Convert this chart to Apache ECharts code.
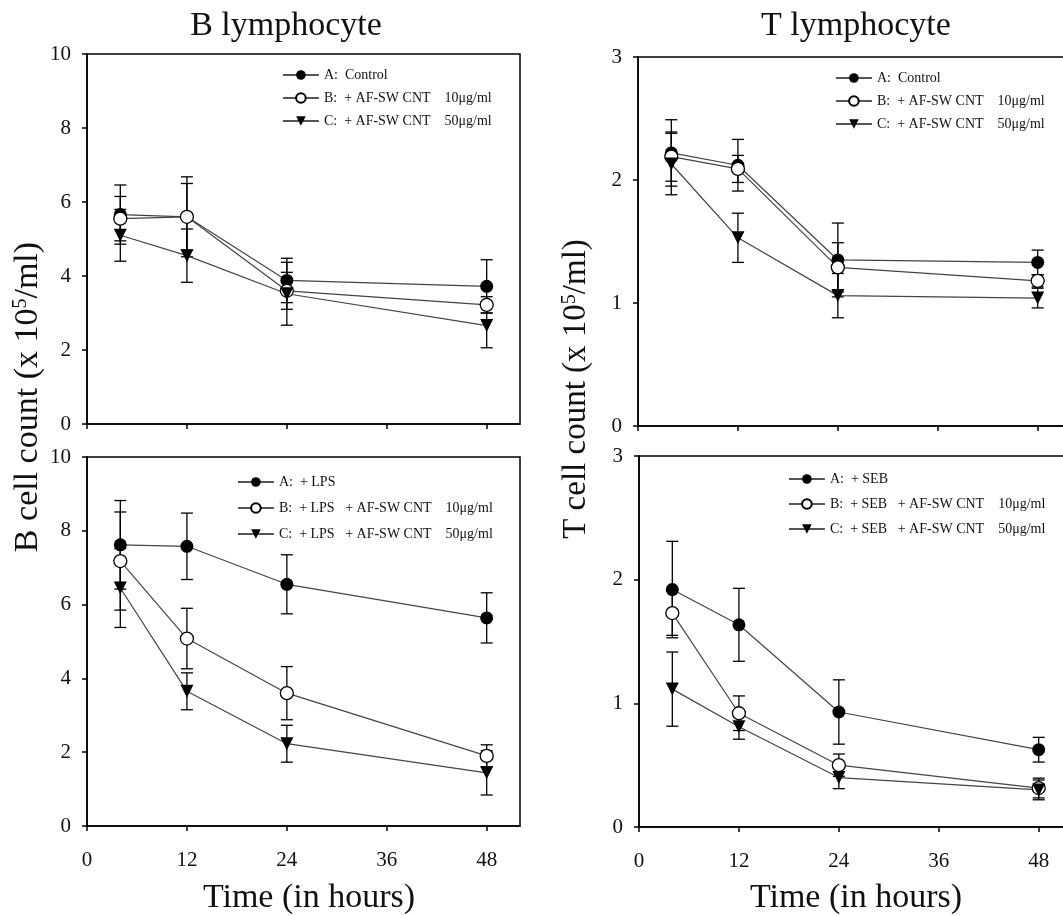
<!DOCTYPE html>
<html>
<head>
<meta charset="utf-8">
<script src="https://cdn.jsdelivr.net/npm/echarts@6/dist/echarts.min.js"></script>
<style>html,body{margin:0;padding:0;background:#fff;}#c{width:1063px;height:916px;}</style>
</head>
<body>
<div id="c"></div>
<script>
// ---- data ----
const hours = [4, 12, 24, 48];
const xTicks = [0, 12, 24, 36, 48];
const bYTicks = [0, 2, 4, 6, 8, 10];
const tYTicks = [0, 1, 2, 3];

const namesCtrl = ['A:  Control', 'B:  + AF-SW CNT    10μg/ml', 'C:  + AF-SW CNT    50μg/ml'];
const namesLps  = ['A:  + LPS', 'B:  + LPS   + AF-SW CNT    10μg/ml', 'C:  + LPS   + AF-SW CNT    50μg/ml'];
const namesSeb  = ['A:  + SEB', 'B:  + SEB   + AF-SW CNT    10μg/ml', 'C:  + SEB   + AF-SW CNT    50μg/ml'];

// B lymphocyte, control
const bCtrlA = [5.66, 5.60, 3.88, 3.72];
const bCtrlB = [5.55, 5.60, 3.60, 3.22];
const bCtrlC = [5.10, 4.55, 3.52, 2.66];
const bCtrlAErr = [0.80, 1.08, 0.60, 0.72];
const bCtrlBErr = [0.60, 0.90, 0.50, 0.22];
const bCtrlCErr = [0.70, 0.72, 0.85, 0.60];

// B lymphocyte, LPS
const bLpsA = [7.62, 7.58, 6.55, 5.64];
const bLpsB = [7.18, 5.08, 3.60, 1.90];
const bLpsC = [6.45, 3.65, 2.23, 1.44];
const bLpsAErr = [1.20, 0.90, 0.80, 0.68];
const bLpsBErr = [1.33, 0.82, 0.72, 0.30];
const bLpsCErr = [1.07, 0.50, 0.50, 0.60];

// T lymphocyte, control
const tCtrlA = [2.22, 2.12, 1.35, 1.33];
const tCtrlB = [2.19, 2.09, 1.29, 1.18];
const tCtrlC = [2.13, 1.53, 1.06, 1.04];
const tCtrlAErr = [0.27, 0.21, 0.30, 0.10];
const tCtrlBErr = [0.20, 0.11, 0.20, 0.05];
const tCtrlCErr = [0.25, 0.20, 0.18, 0.08];

// T lymphocyte, SEB
const tSebA = [1.92, 1.635, 0.93, 0.625];
const tSebB = [1.73, 0.92, 0.50, 0.315];
const tSebC = [1.115, 0.81, 0.40, 0.30];
const tSebAErr = [0.39, 0.295, 0.26, 0.10];
const tSebBErr = [0.18, 0.14, 0.09, 0.08];
const tSebCErr = [0.30, 0.10, 0.09, 0.08];

// ---- build ----
const FONT = '"Liberation Serif", "Times New Roman", serif';
const markStyles = [
  { symbol: 'circle', rotate: 0, fill: '#000' },
  { symbol: 'circle', rotate: 0, fill: '#fff' },
  { symbol: 'triangle', rotate: 180, fill: '#000' }
];

function errRender(params, api) {
  const x = api.value(0), m = api.value(1), e = api.value(2);
  const top = api.coord([x, m + e]);
  const bot = api.coord([x, m - e]);
  const w = 6;
  const st = { stroke: '#000', lineWidth: 1.3 };
  return {
    type: 'group',
    children: [
      { type: 'line', shape: { x1: top[0], y1: top[1], x2: bot[0], y2: bot[1] }, style: st },
      { type: 'line', shape: { x1: top[0] - w, y1: top[1], x2: top[0] + w, y2: top[1] }, style: st },
      { type: 'line', shape: { x1: bot[0] - w, y1: bot[1], x2: bot[0] + w, y2: bot[1] }, style: st }
    ]
  };
}

const series = [];
function addPanel(gi, names, vals, errs) {
  vals.forEach((v, k) => {
    series.push({
      type: 'custom', name: 'err' + gi + '_' + k, xAxisIndex: gi, yAxisIndex: gi,
      renderItem: errRender, z: 2, silent: true,
      encode: { x: 0, y: 1 },
      data: hours.map((h, i) => [h, v[i], errs[k][i]])
    });
  });
  vals.forEach((v, k) => {
    const ms = markStyles[k];
    series.push({
      type: 'line', name: names[k], xAxisIndex: gi, yAxisIndex: gi, z: 3,
      symbol: ms.symbol, symbolRotate: ms.rotate, symbolSize: 13, showAllSymbol: true,
      lineStyle: { color: '#444', width: 1.2 },
      itemStyle: { color: ms.fill, borderColor: '#000', borderWidth: ms.fill === '#fff' ? 1.3 : 0 },
      emphasis: { disabled: true },
      data: hours.map((h, i) => [h, v[i]])
    });
  });
}
addPanel(0, namesCtrl, [bCtrlA, bCtrlB, bCtrlC], [bCtrlAErr, bCtrlBErr, bCtrlCErr]);
addPanel(1, namesLps, [bLpsA, bLpsB, bLpsC], [bLpsAErr, bLpsBErr, bLpsCErr]);
addPanel(2, namesCtrl, [tCtrlA, tCtrlB, tCtrlC], [tCtrlAErr, tCtrlBErr, tCtrlCErr]);
addPanel(3, namesSeb, [tSebA, tSebB, tSebC], [tSebAErr, tSebBErr, tSebCErr]);

const gridPos = [
  { left: 87, top: 54, width: 433, height: 370 },
  { left: 87, top: 457, width: 433, height: 369 },
  { left: 638, top: 57, width: 433, height: 369 },
  { left: 639, top: 456, width: 433, height: 371 }
];
const grids = gridPos.map(p => Object.assign({
  show: true, borderColor: '#000', borderWidth: 1.5, backgroundColor: 'transparent',
  containLabel: false, outerBoundsMode: 'none'
}, p));

const axisLineStyle = { color: '#000', width: 1.5 };
const xAxes = [0, 1, 2, 3].map(gi => ({
  gridIndex: gi, type: 'value', min: 0, max: 52, interval: 12,
  axisLine: { show: true, onZero: false, lineStyle: axisLineStyle },
  axisTick: { show: true, inside: false, length: 5, customValues: xTicks, lineStyle: axisLineStyle },
  axisLabel: {
    show: gi % 2 === 1, customValues: xTicks, margin: 24,
    fontFamily: FONT, fontSize: 21, color: '#111',
    formatter: v => (xTicks.indexOf(v) >= 0 ? String(v) : '')
  },
  splitLine: { show: false }
}));
const yAxes = [0, 1, 2, 3].map(gi => {
  const ticks = gi < 2 ? bYTicks : tYTicks;
  return {
    gridIndex: gi, type: 'value', min: ticks[0], max: ticks[ticks.length - 1],
    interval: ticks[1] - ticks[0],
    axisLine: { show: true, onZero: false, lineStyle: axisLineStyle },
    axisTick: { show: true, inside: false, length: 5, lineStyle: axisLineStyle },
    axisLabel: { margin: 16, fontFamily: FONT, fontSize: 21, color: '#111' },
    splitLine: { show: false }
  };
});

function legend(names, left, top, gap) {
  return {
    orient: 'vertical', left: left, top: top, itemGap: gap,
    itemWidth: 36, itemHeight: 12, selectedMode: false,
    data: names,
    textStyle: { fontFamily: FONT, fontSize: 14, color: '#111', lineHeight: 14 },
    lineStyle: { color: '#555', width: 1.8 }
  };
}

function txt(text, x, y, size, rot) {
  return {
    type: 'text', x: x, y: y, rotation: rot || 0, silent: true,
    style: {
      text: text, fontFamily: 'Liberation Serif', fontSize: size, fill: '#111',
      align: 'center', verticalAlign: 'middle', textAlign: 'center', textVerticalAlign: 'middle',
      rich: { sup: { fontFamily: 'Liberation Serif', fontSize: Math.round(size * 0.6), fill: '#111', verticalAlign: 'top', lineHeight: size } }
    }
  };
}

const option = {
  backgroundColor: '#fff',
  animation: false,
  textStyle: { fontFamily: FONT },
  grid: grids,
  xAxis: xAxes,
  yAxis: yAxes,
  legend: [
    legend(namesCtrl, 277, 63, 9),
    legend(namesLps, 232, 470, 12),
    legend(namesCtrl, 830, 66, 9),
    legend(namesSeb, 783, 467, 11)
  ],
  graphic: [
    txt('B lymphocyte', 286, 26, 34),
    txt('T lymphocyte', 856, 26, 34),
    txt('Time (in hours)', 309, 898, 34),
    txt('Time (in hours)', 856, 898, 34),
    txt('B cell count (x 10{sup|5}/ml)', 28, 397, 34, Math.PI / 2),
    txt('T cell count (x 10{sup|5}/ml)', 576, 389, 33, Math.PI / 2)
  ],
  series: series
};

const chart = echarts.init(document.getElementById('c'), null, { renderer: 'canvas' });
chart.setOption(option);
</script>
</body>
</html>
